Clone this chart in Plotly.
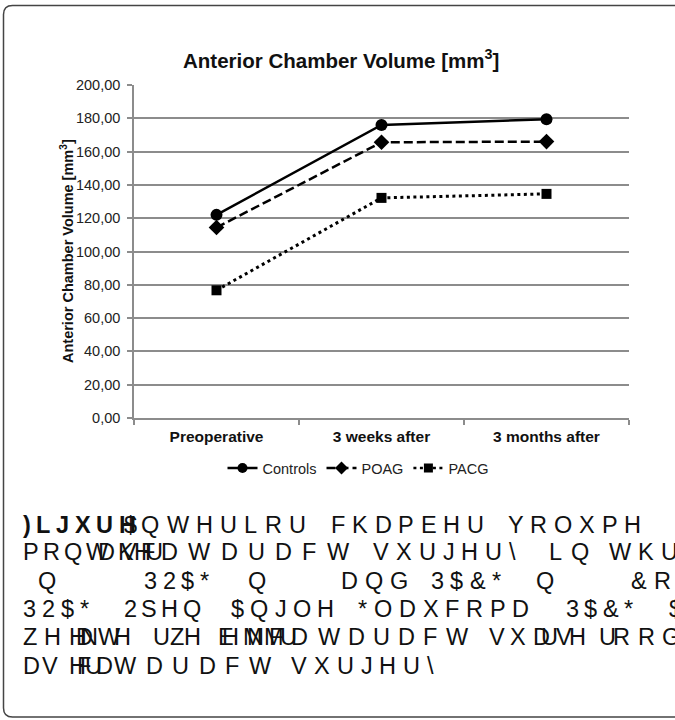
import plotly.graph_objects as go

# ---------------- data ----------------
categories = ["Preoperative", "3 weeks after", "3 months after"]
controls = [122.0, 176.0, 179.4]
poag = [114.4, 165.6, 166.0]
pacg = [76.7, 132.2, 134.6]
series_names = ["Controls", "POAG", "PACG"]
y_ticks = [0, 20, 40, 60, 80, 100, 120, 140, 160, 180, 200]

chart_title = "Anterior Chamber Volume [mm<sup>3</sup>]"
y_title = "Anterior Chamber Volume [mm<sup>3</sup>]"

# caption text as rendered in the reference (garbled glyph encoding kept as-is)
caption_lines = [
    [(")LJXUH", 22, 135, True), ("$", 123, None, False), ("QWHULRU", 140, 305, False),
     ("FKDPEHU", 330, 483, False), ("YROXPH", 507, 640, False)],
    [("PRQW", 22, 107, False), ("D", 97, None, False), ("K", 117, None, False), ("V", 120, None, False),
     ("H", 133, None, False), ("F", 140, None, False), ("U", 145, None, False),
     ("DWDUDFW", 160, 348, False), ("VXUJHU\\", 372, 515, False), ("LQ", 548, 588, False),
     ("WKU", 608, None, False)],
    [("Q", 37, None, False), ("32$*", 143, 208, False), ("Q", 247, None, False),
     ("DQG", 340, 407, False), ("3$&*", 430, 500, False), ("Q", 535, None, False),
     ("&R", 630, None, False)],
    [("32$*", 22, 88, False), ("2SHQ", 123, 200, False), ("$QJOH", 230, 333, False),
     ("*ODXFRPD", 357, 528, False), ("3$&*", 565, 632, False), ("$", 668, None, False)],
    [("ZH", 22, 60, False), ("H", 68, None, False), ("D", 75, None, False), ("N", 80, None, False),
     ("WH", 97, 130, False), ("UZH", 152, 200, False), ("E", 217, None, False), ("H", 221, None, False),
     ("M", 242, None, False), ("N", 246, None, False), ("M", 263, None, False), ("F", 268, None, False),
     ("U", 279, None, False), ("D", 290, None, False), ("WDUDFW", 317, 467, False),
     ("VX", 488, 525, False), ("D", 532, None, False), ("U", 540, None, False), ("V", 555, None, False),
     ("H", 568, None, False), ("U", 598, None, False), ("R", 612, None, False), ("RG", 637, None, False)],
    [("DV", 22, 57, False), ("H", 68, None, False), ("F", 76, None, False), ("U", 84, None, False),
     ("D", 95, None, False), ("WDUDFW", 113, 270, False), ("VXUJHU\\", 290, 433, False)],
]
caption_y = [525, 552, 581, 609, 637, 666]

# ---------------- layout helpers ----------------
W, H = 675, 720
ML, MR, MT, MB = 134, 46, 85, 302
PW = W - ML - MR
PH = H - MT - MB


def px(x):
    return (x - ML) / PW


def py(y):
    return (H - MB - y) / PH


FONT = "Liberation Sans, Arial, Helvetica, sans-serif"
GRID = "#8c8c8c"

# Arial advance widths (1/1000 em)
REG_W = {" ": 278, "$": 556, "&": 667, "*": 389, ")": 333, "2": 556, "3": 556, "\\": 278,
         "A": 667, "B": 667, "C": 722, "D": 722, "E": 667, "F": 611, "G": 778, "H": 722,
         "I": 278, "J": 500, "K": 667, "L": 556, "M": 833, "N": 722, "O": 778, "P": 667,
         "Q": 778, "R": 722, "S": 667, "T": 611, "U": 722, "V": 667, "W": 944, "X": 667,
         "Y": 667, "Z": 611}
BOLD_W = dict(REG_W)
BOLD_W.update({")": 333, "L": 611, "J": 556, "X": 667, "U": 722, "H": 722})

CAP_SIZE = 23.5
DEFAULT_TRACK = 7.0

fig = go.Figure()

styles = [
    dict(line=dict(color="black", width=2.5), symbol="circle", size=12, lsize=10),
    dict(line=dict(color="black", width=2.5, dash="9px,4px"), symbol="diamond", size=12, lsize=10),
    dict(line=dict(color="black", width=3, dash="3px,3.5px"), symbol="square", size=10, lsize=9),
]
for name, vals, st in zip(series_names, [controls, poag, pacg], styles):
    fig.add_trace(go.Scatter(x=categories, y=vals, mode="lines+markers", name=name,
                             line=st["line"], showlegend=False,
                             marker=dict(symbol=st["symbol"], size=st["size"], color="black")))
# legend entries with smaller symbols (as in the reference legend)
for name, st in zip(series_names, styles):
    fig.add_trace(go.Scatter(x=[None], y=[None], mode="lines+markers", name=name,
                             line=dict(color="black", width=2.5, dash=st["line"].get("dash")),
                             marker=dict(symbol=st["symbol"], size=st["lsize"], color="black")))

annotations = []
# chart title
annotations.append(dict(x=px(341), y=py(59), xref="paper", yref="paper", showarrow=False,
                        xanchor="center", yanchor="middle", text="<b>" + chart_title + "</b>",
                        font=dict(family=FONT, size=20.5, color="#111")))
# y axis title
annotations.append(dict(x=px(67), y=py(251), xref="paper", yref="paper", showarrow=False,
                        xanchor="center", yanchor="middle", textangle=-90,
                        text="<b>" + y_title + "</b>",
                        font=dict(family=FONT, size=14.5, color="#111")))

# caption, glyph by glyph to reproduce the wide tracking
for segs, yl in zip(caption_lines, caption_y):
    for text, x0, x1, bold in segs:
        wt = BOLD_W if bold else REG_W
        widths = [wt.get(c, 600) * CAP_SIZE / 1000 for c in text]
        if x1 is not None and len(text) > 1:
            track = (x1 - x0 - sum(widths)) / (len(text) - 1)
        else:
            track = DEFAULT_TRACK
        cx = x0
        for c, w in zip(text, widths):
            t = c.replace("&", "&amp;")
            annotations.append(dict(x=px(cx), y=py(yl), xref="paper", yref="paper", showarrow=False,
                                    xanchor="left", yanchor="middle", text=t, borderpad=0,
                                    font=dict(family=FONT, size=CAP_SIZE, color="#111",
                                              weight="bold" if bold else "normal")))
            cx += w + track

# frame (rounded corners on the left, right side runs off the picture)
L, T, B, R, r = 3.5, 5.5, 717.0, 700.0, 9.0
path = (f"M {px(L)},{py(T + r)} L {px(L)},{py(B - r)} Q {px(L)},{py(B)} {px(L + r)},{py(B)} "
        f"L {px(R)},{py(B)} L {px(R)},{py(T)} L {px(L + r)},{py(T)} Q {px(L)},{py(T)} {px(L)},{py(T + r)} Z")

fig.update_layout(
    width=W, height=H,
    margin=dict(l=ML, r=MR, t=MT, b=MB, pad=0),
    paper_bgcolor="white", plot_bgcolor="white",
    separators=",.",
    font=dict(family=FONT, color="#222"),
    showlegend=True,
    legend=dict(orientation="h", x=px(358), xanchor="center", y=py(468), yanchor="middle",
                font=dict(family=FONT, size=14.5, color="#222"), bgcolor="rgba(0,0,0,0)",
                itemwidth=30, tracegroupgap=0),
    xaxis=dict(type="category", range=[-0.5, 2.5], showline=True, linecolor=GRID, linewidth=1.5,
               ticks="outside", tickson="boundaries", ticklen=5, tickcolor=GRID, tickwidth=1.5,
               showgrid=False, zeroline=False, ticklabelstandoff=4,
               tickfont=dict(family=FONT, size=15.5, color="#111", weight="bold")),
    yaxis=dict(range=[0, 200], tickvals=y_ticks, tickformat=".2f", showgrid=True,
               gridcolor=GRID, gridwidth=1.5, showline=True, linecolor=GRID, linewidth=1.5,
               ticks="outside", ticklen=5, tickcolor=GRID, tickwidth=1.5, zeroline=False,
               ticklabelstandoff=4, tickfont=dict(family=FONT, size=14.5, color="#222")),
    annotations=annotations,
    shapes=[dict(type="path", xref="paper", yref="paper", path=path,
                 line=dict(color="#444", width=1.5), fillcolor="rgba(0,0,0,0)", layer="below")],
)

fig.write_html("out.html", config={"displayModeBar": False},
               post_script="document.body.style.margin='0';document.body.style.overflow='hidden';")
